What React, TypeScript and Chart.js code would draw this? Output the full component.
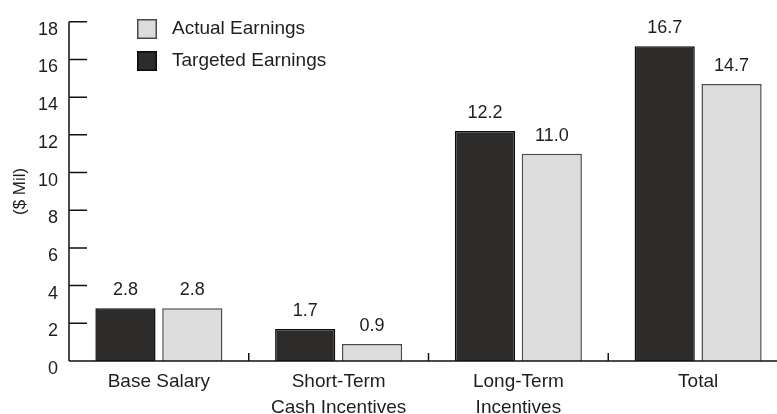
import { useEffect, useRef } from "react";
import { Chart, registerables } from "chart.js";

Chart.register(...registerables);

const categories: string[][] = [
  ["Base Salary"],
  ["Short-Term", "Cash Incentives"],
  ["Long-Term", "Incentives"],
  ["Total"],
];
const targetedEarnings = [2.8, 1.7, 12.2, 16.7];
const actualEarnings = [2.8, 0.9, 11.0, 14.7];
const seriesNames = ["Targeted Earnings", "Actual Earnings"];
const legendOrder = ["Actual Earnings", "Targeted Earnings"];
const yMin = 0;
const yMax = 18;
const yStep = 2;
const yTitle = "($ Mil)";

const FONT = "'Liberation Sans', Arial, Helvetica, sans-serif";
const DARK = "#2e2b2b";
const LIGHT = "#dcdcdc";
const TEXT = "#1e1e1e";

const customDraw = {
  id: "customDraw",
  afterDraw(chart: any) {
    const ctx = chart.ctx;
    const { left, right, top, bottom } = chart.chartArea;
    const xs = chart.scales.x;
    const ys = chart.scales.y;
    ctx.save();
    // axes
    ctx.strokeStyle = "#111";
    ctx.lineWidth = 1.5;
    ctx.beginPath();
    ctx.moveTo(left, top);
    ctx.lineTo(left, bottom);
    ctx.moveTo(left, bottom);
    ctx.lineTo(chart.width, bottom);
    for (let v = yMin; v <= yMax; v += yStep) {
      const py = ys.getPixelForValue(v);
      ctx.moveTo(left, py);
      ctx.lineTo(left + 18, py);
    }
    for (let i = 0; i < categories.length - 1; i++) {
      const px = (xs.getPixelForValue(i) + xs.getPixelForValue(i + 1)) / 2;
      ctx.moveTo(px, bottom - 8);
      ctx.lineTo(px, bottom);
    }
    ctx.stroke();

    // data labels
    ctx.fillStyle = TEXT;
    ctx.font = `18px ${FONT}`;
    ctx.textAlign = "center";
    ctx.textBaseline = "alphabetic";
    chart.data.datasets.forEach((ds: any, di: number) => {
      const meta = chart.getDatasetMeta(di);
      meta.data.forEach((bar: any, i: number) => {
        ctx.fillText(Number(ds.data[i]).toFixed(1), bar.x, bar.y - 13);
      });
    });

    // legend
    ctx.font = `19px ${FONT}`;
    ctx.textAlign = "left";
    ctx.textBaseline = "middle";
    legendOrder.forEach((name, k) => {
      const ds = chart.data.datasets.find((d: any) => d.label === name);
      const by = 19 + k * 32;
      ctx.fillStyle = ds.backgroundColor;
      ctx.fillRect(137, by, 20, 20);
      ctx.strokeStyle = ds.borderColor;
      ctx.lineWidth = 1.5;
      ctx.strokeRect(137.75, by + 0.75, 18.5, 18.5);
      ctx.fillStyle = TEXT;
      ctx.fillText(name, 172, by + 10);
    });

    // y title
    ctx.font = `17px ${FONT}`;
    ctx.textAlign = "center";
    ctx.textBaseline = "middle";
    ctx.translate(20, (top + bottom) / 2);
    ctx.rotate(-Math.PI / 2);
    ctx.fillText(yTitle, 0, 0);
    ctx.restore();
  },
};

export default function App() {
  const ref = useRef<HTMLCanvasElement | null>(null);
  useEffect(() => {
    if (!ref.current) return;
    const chart = new Chart(ref.current, {
      type: "bar",
      data: {
        labels: categories,
        datasets: [
          {
            label: seriesNames[0],
            data: targetedEarnings,
            backgroundColor: DARK,
            borderColor: "#0a0a0a",
            borderWidth: 1.5,
            categoryPercentage: 0.744,
            barPercentage: 0.9,
          },
          {
            label: seriesNames[1],
            data: actualEarnings,
            backgroundColor: LIGHT,
            borderColor: "#4a4a4a",
            borderWidth: 1.5,
            categoryPercentage: 0.744,
            barPercentage: 0.9,
          },
        ],
      },
      options: {
        responsive: false,
        animation: false,
        layout: { padding: { top: 18, right: 12, left: 0, bottom: 0 } },
        plugins: {
          legend: { display: false },
          tooltip: { enabled: false },
        },
        scales: {
          x: {
            grid: { display: false, drawTicks: false },
            border: { display: false },
            ticks: {
              color: TEXT,
              font: { family: FONT, size: 19, lineHeight: 1.35 },
              padding: 8,
              maxRotation: 0,
              autoSkip: false,
            },
            afterFit(scale: any) {
              scale.height = 53;
            },
          },
          y: {
            min: yMin,
            max: yMax,
            grid: { display: false, drawTicks: false },
            border: { display: false },
            ticks: {
              stepSize: yStep,
              color: TEXT,
              font: { family: FONT, size: 18 },
              padding: 11,
              labelOffset: 8,
            },
            afterFit(scale: any) {
              scale.width = 69;
            },
          },
        },
      } as any,
      plugins: [customDraw],
    });
    return () => chart.destroy();
  }, []);
  return (
    <div
      style={{
        position: "absolute",
        left: 0,
        top: 0,
        width: 777,
        height: 414,
        overflow: "hidden",
        background: "#fff",
      }}
    >
      <canvas ref={ref} width={800} height={414} style={{ display: "block" }} />
    </div>
  );
}
